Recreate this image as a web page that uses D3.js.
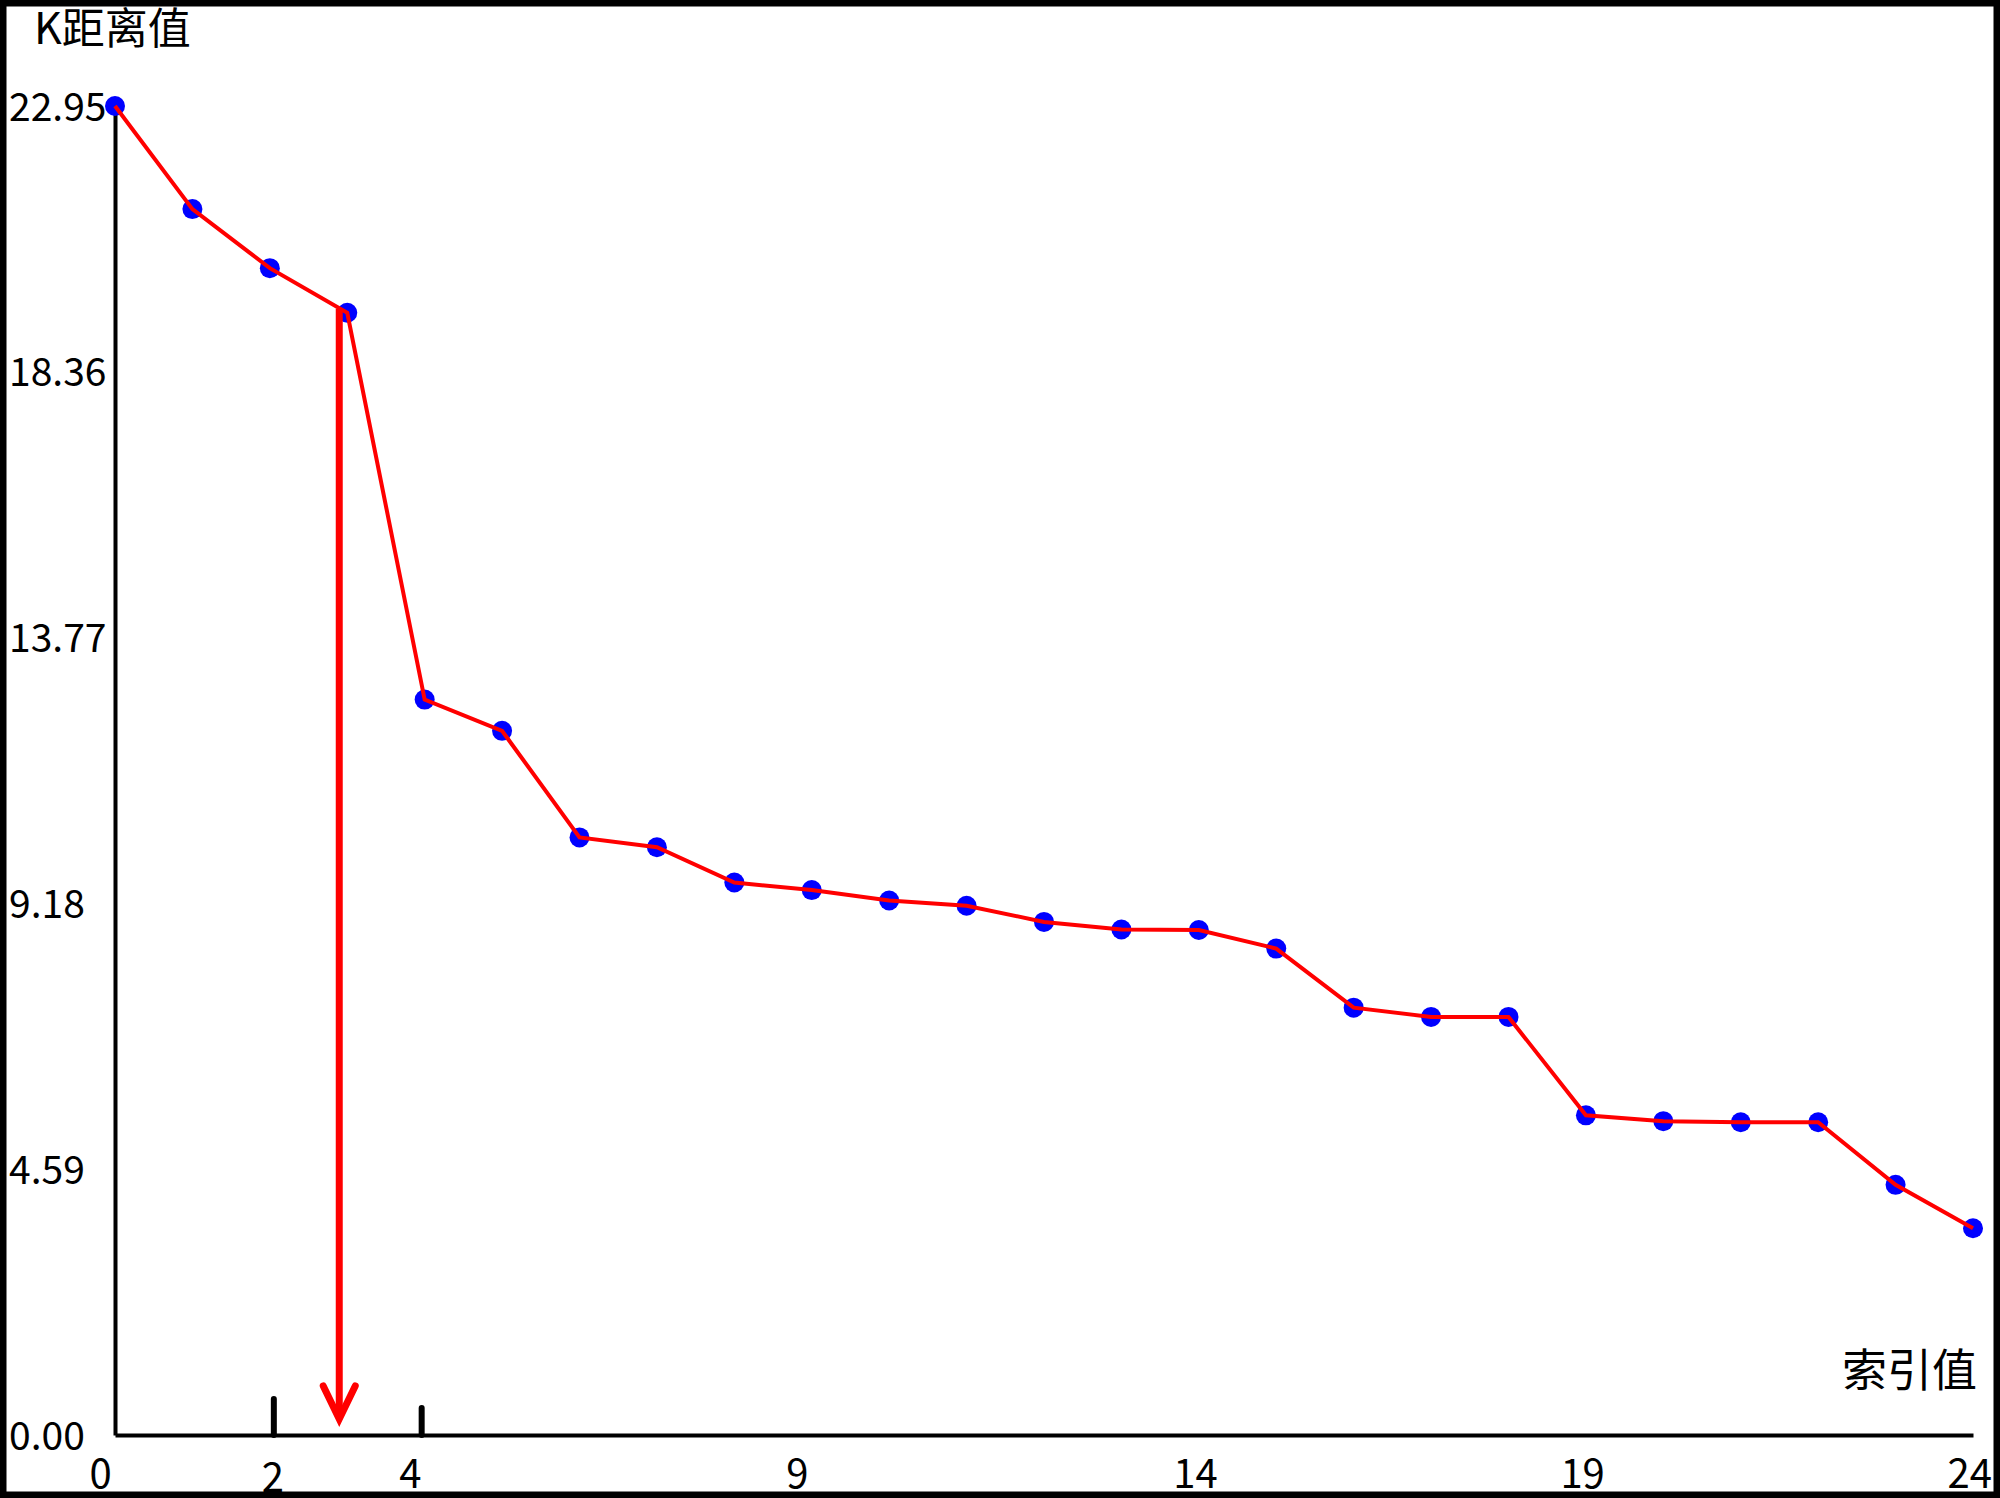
<!DOCTYPE html>
<html>
<head>
<meta charset="utf-8">
<script src="https://cdn.jsdelivr.net/npm/d3@7"></script>
<style>
    html, body { margin: 0; padding: 0; background: #fff; }
    svg text { font-family: "Noto Sans CJK SC", "Noto Sans", sans-serif; fill: #000; }
</style>
</head>
<body>
<div id="chart"></div>
<script>
// k-distance values, sorted descending
var indexes = d3.range(0, 25);
var kDistances = [22.95, 21.17, 20.15, 19.38, 12.70, 12.16, 10.32, 10.15, 9.54, 9.41,
                  9.23, 9.14, 8.86, 8.73, 8.72, 8.40, 7.38, 7.22, 7.22, 5.52,
                  5.42, 5.40, 5.40, 4.32, 3.57];
var yTicks = [0, 4.59, 9.18, 13.77, 18.36, 22.95];
var xTicks = [0, 4, 9, 14, 19, 24];
var markedTicks = [2, 4];      // short black marks on the x axis
var markedLabel = 2;           // extra label under the first mark
var elbowIndex = 3;            // the arrow drops from this point
var yTitle = 'K距离值';
var xTitle = '索引值';

var _width = 2000,
    _height = 1498;

var _svg = d3.select('#chart').append('svg')
    .attr('width', _width)
    .attr('height', _height);

var _x = d3.scaleLinear().domain([0, 24]).range([115, 1973]);
var _y = d3.scaleLinear().domain([0, 22.95]).range([1435, 106]);

// outer frame
_svg.append('rect')
    .attr('x', 3).attr('y', 3)
    .attr('width', _width - 6).attr('height', _height - 6)
    .attr('fill', '#fff')
    .attr('stroke', '#000')
    .attr('stroke-width', 7);

// y axis
var yAxisG = _svg.append('g')
    .attr('transform', 'translate(' + _x(0) + ',0)')
    .call(d3.axisLeft(_y).tickValues(yTicks).tickSize(0).tickSizeOuter(0).tickFormat(d3.format('.2f')));
yAxisG.select('.domain').attr('stroke', '#000').attr('stroke-width', 4);
yAxisG.selectAll('text')
    .attr('x', 9 - _x(0))
    .attr('text-anchor', 'start')
    .attr('font-size', 39)
    .attr('dy', '0.36em');

// x axis
var xAxisG = _svg.append('g')
    .attr('transform', 'translate(0,' + _y(0) + ')')
    .call(d3.axisBottom(_x).tickValues(xTicks).tickSize(0).tickSizeOuter(0).tickFormat(d3.format('d')));
xAxisG.select('.domain').attr('stroke', '#000').attr('stroke-width', 4);
xAxisG.selectAll('text')
    .attr('x', -26)
    .attr('y', 53)
    .attr('dy', null)
    .attr('text-anchor', 'start')
    .attr('font-size', 40);

// the hand-made marks at 2 and 4
_svg.selectAll('line.mark')
    .data(markedTicks)
    .enter()
    .append('line')
    .attr('class', 'mark')
    .attr('x1', function (d, i) { return _x(d) + (i === 0 ? 4 : -3); })
    .attr('x2', function (d, i) { return _x(d) + (i === 0 ? 4 : -3); })
    .attr('y1', _y(0))
    .attr('y2', function (d, i) { return _y(0) - (i === 0 ? 36 : 27); })
    .attr('stroke', '#000')
    .attr('stroke-width', 6)
    .attr('stroke-linecap', 'round');

_svg.append('text')
    .text(markedLabel)
    .attr('x', _x(markedLabel) + 3)
    .attr('y', _y(0) + 57)
    .attr('text-anchor', 'middle')
    .attr('font-size', 40);

// points first, the red line is drawn over them
_svg.selectAll('circle.pt')
    .data(kDistances)
    .enter()
    .append('circle')
    .attr('class', 'pt')
    .attr('cx', function (d, i) { return _x(indexes[i]); })
    .attr('cy', function (d) { return _y(d); })
    .attr('r', 10)
    .attr('fill', '#0000ff');

var line = d3.line()
    .x(function (d, i) { return _x(indexes[i]); })
    .y(function (d) { return _y(d); });

_svg.append('path')
    .datum(kDistances)
    .attr('d', line)
    .attr('fill', 'none')
    .attr('stroke', '#ff0000')
    .attr('stroke-width', 4);

// elbow arrow
var ax = _x(elbowIndex) - 8,
    ay0 = _y(kDistances[elbowIndex]) - 4,
    ay1 = _y(0) - 16;

_svg.append('line')
    .attr('x1', ax).attr('y1', ay0)
    .attr('x2', ax).attr('y2', ay1 - 3)
    .attr('stroke', '#ff0000')
    .attr('stroke-width', 7);

_svg.append('path')
    .attr('d', 'M' + (ax - 16) + ',' + (ay1 - 33) + 'L' + ax + ',' + ay1 + 'L' + (ax + 16) + ',' + (ay1 - 33))
    .attr('fill', 'none')
    .attr('stroke', '#ff0000')
    .attr('stroke-width', 7)
    .attr('stroke-linecap', 'round')
    .attr('stroke-linejoin', 'miter');

// axis titles
_svg.append('text')
    .text(yTitle)
    .attr('x', 34)
    .attr('y', 44)
    .attr('font-size', 43);

_svg.append('text')
    .text(xTitle)
    .attr('x', 1977)
    .attr('y', 1387)
    .attr('text-anchor', 'end')
    .attr('font-size', 45);
</script>
</body>
</html>
